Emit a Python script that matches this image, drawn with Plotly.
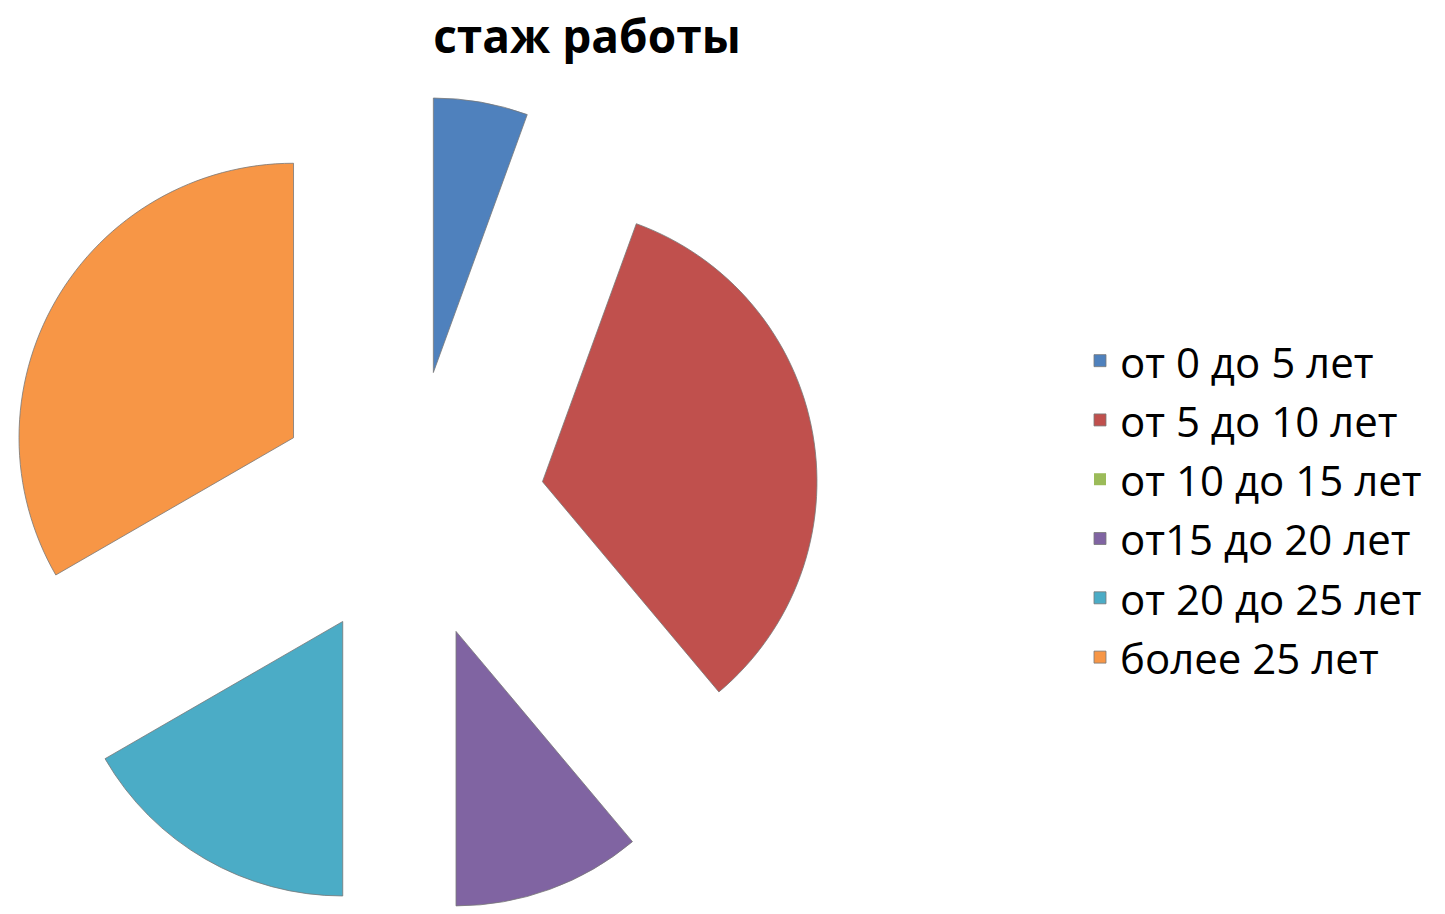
import plotly.graph_objects as go

categories = ["от 0 до 5 лет", "от 5 до 10 лет", "от 10 до 15 лет",
              "от15 до 20 лет", "от 20 до 25 лет", "более 25 лет"]
values = [1, 6, 0, 2, 3, 6]
colors = ["#4F81BD", "#C0504D", "#9BBB59", "#8064A2", "#4BACC6", "#F79646"]
title_text = "стаж работы"

W, H = 1445, 914

labels = ['<span style="font-size:42px">%s</span>' % c for c in categories]
line_widths = [1 if v > 0 else 0 for v in values]

fig = go.Figure(go.Pie(
    labels=labels,
    values=values,
    sort=False,
    direction="clockwise",
    rotation=0,
    pull=[0.49] * len(values),
    marker=dict(colors=colors, line=dict(color="rgba(120,120,120,0.8)", width=line_widths)),
    textinfo="none",
    hoverinfo="label+value+percent",
    domain=dict(x=[1 / W, 819 / W], y=[0, 818 / H]),
    showlegend=True,
))

fig.update_layout(
    width=W, height=H,
    margin=dict(l=0, r=0, t=0, b=0),
    paper_bgcolor="white",
    plot_bgcolor="white",
    title=dict(text="<b>%s</b>" % title_text, x=587 / W, xanchor="center",
               y=1 - 37 / H, yanchor="middle",
               font=dict(family="Open Sans", size=46, color="black")),
    legend=dict(x=1080 / W, xanchor="left", y=1 - 509 / H, yanchor="middle",
                font=dict(family="Open Sans", size=43.3, color="black"),
                bgcolor="rgba(0,0,0,0)"),
)

fig.write_html("out.html", config={"displayModeBar": False},
               post_script="document.body.style.margin='0px';")
